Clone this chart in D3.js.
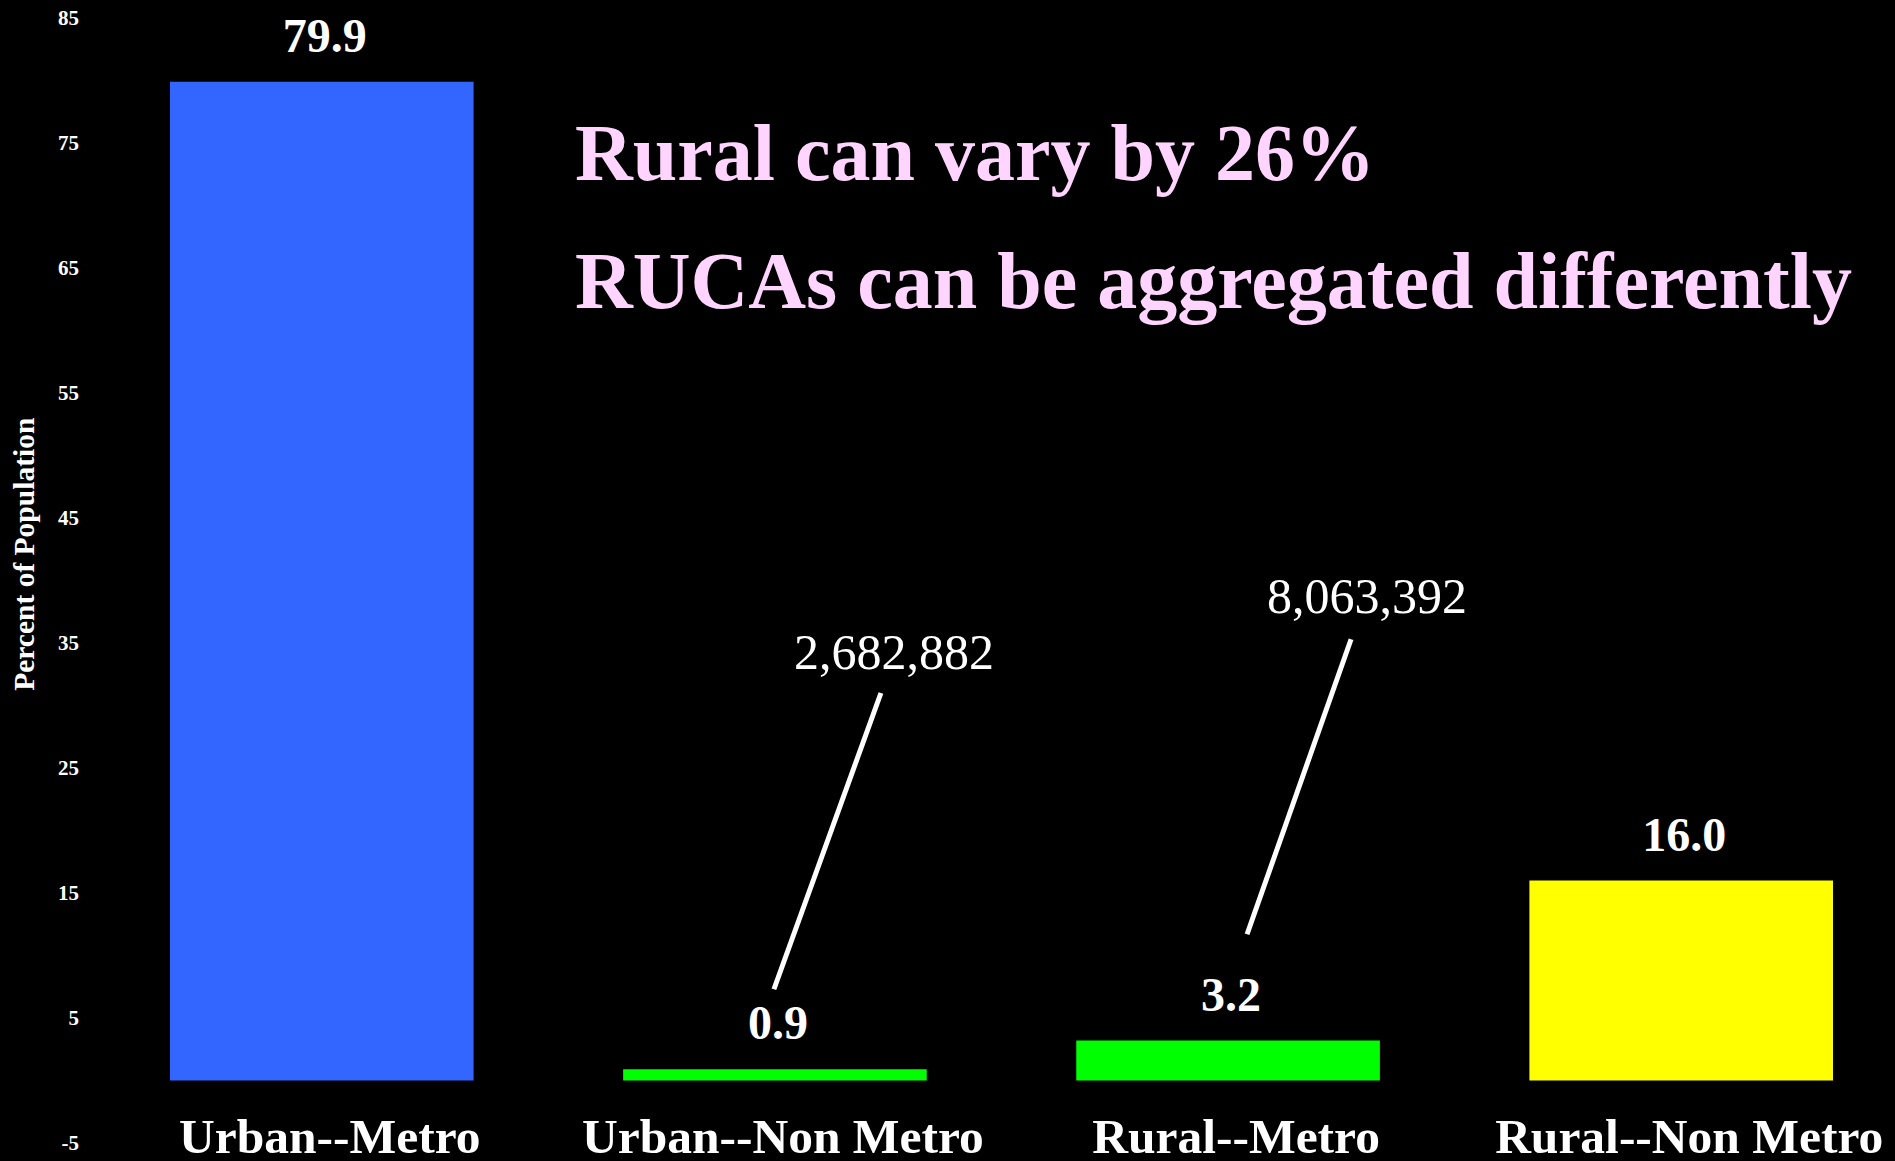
<!DOCTYPE html>
<html>
<head>
<meta charset="utf-8">
<script src="https://cdnjs.cloudflare.com/ajax/libs/d3/7.8.5/d3.min.js"></script>
<style>
  body { margin: 0; background: #000; }
  svg { display: block; }
</style>
</head>
<body>
<div id="chart"></div>
<script>
var categories = ["Urban--Metro", "Urban--Non Metro", "Rural--Metro", "Rural--Non Metro"];
var percents = [79.9, 0.9, 3.2, 16.0];
var barColors = ["#3366ff", "#00ff00", "#00ff00", "#ffff00"];
var yTicks = [-5, 5, 15, 25, 35, 45, 55, 65, 75, 85];
var populations = ["2,682,882", "8,063,392"];
var populationCategories = ["Urban--Non Metro", "Rural--Metro"];
var titleLines = ["Rural can vary by 26%", "RUCAs can be aggregated differently"];

var width = 1895, height = 1161;
var serif = "'Liberation Serif', 'Times New Roman', serif";

// leader placement for the population callouts (value units + px offset from band centre)
var callouts = [
  {textDx: 119, textY: 32.9, topDx: 106, topY: 31.0, botDx: -1, botY: 7.3},
  {textDx: 139, textY: 37.4, topDx: 123, topY: 35.3, botDx: 19, botY: 11.7}
];

var svg = d3.select("#chart").append("svg")
    .attr("width", width)
    .attr("height", height);

svg.append("rect")
  .attr("width", width)
  .attr("height", height)
  .attr("fill", "#000");

var x = d3.scaleBand()
    .domain(categories)
    .range([170, 1833])
    .paddingInner(0.33)
    .paddingOuter(0);

var y = d3.scaleLinear()
    .domain([-5, 85])
    .range([1143, 18]);

// y axis, labels only (plain hyphen for negatives like the original)
var yAxis = svg.append("g")
    .attr("transform", "translate(82,0)")
    .call(d3.axisLeft(y)
      .tickValues(yTicks)
      .tickFormat(function(d) { return String(d); })
      .tickSize(0)
      .tickPadding(3));
yAxis.select(".domain").remove();
yAxis.selectAll("text")
  .attr("fill", "#fff")
  .style("font-family", serif)
  .style("font-weight", "bold")
  .style("font-size", "21px");

svg.append("text")
  .attr("transform", "translate(34," + y(42.1) + ") rotate(-90)")
  .attr("text-anchor", "middle")
  .attr("fill", "#fff")
  .style("font-family", serif)
  .style("font-weight", "bold")
  .style("font-size", "29.5px")
  .text("Percent of Population");

// bars
svg.append("g")
  .selectAll("rect")
  .data(percents)
  .enter().append("rect")
  .attr("x", function(d, i) { return x(categories[i]); })
  .attr("y", function(d) { return y(d); })
  .attr("width", x.bandwidth())
  .attr("height", function(d) { return y(0) - y(d); })
  .attr("fill", function(d, i) { return barColors[i]; });

// value labels
svg.append("g")
  .selectAll("text")
  .data(percents)
  .enter().append("text")
  .attr("x", function(d, i) { return x(categories[i]) + x.bandwidth() / 2 + 3; })
  .attr("y", function(d) { return y(d) - 30; })
  .attr("text-anchor", "middle")
  .attr("fill", "#fff")
  .style("font-family", serif)
  .style("font-weight", "bold")
  .style("font-size", "48px")
  .text(function(d) { return d.toFixed(1); });

// category labels
svg.append("g")
  .selectAll("text")
  .data(categories)
  .enter().append("text")
  .attr("x", function(d) { return x(d) + x.bandwidth() / 2 + 8; })
  .attr("y", 1153)
  .attr("text-anchor", "middle")
  .attr("fill", "#fff")
  .style("font-family", serif)
  .style("font-weight", "bold")
  .style("font-size", "49.5px")
  .text(function(d) { return d; });

// population callouts
var callout = svg.append("g")
  .selectAll("g")
  .data(populations)
  .enter().append("g");

callout.append("line")
  .attr("x1", function(d, i) { return x(populationCategories[i]) + x.bandwidth() / 2 + callouts[i].botDx; })
  .attr("y1", function(d, i) { return y(callouts[i].botY); })
  .attr("x2", function(d, i) { return x(populationCategories[i]) + x.bandwidth() / 2 + callouts[i].topDx; })
  .attr("y2", function(d, i) { return y(callouts[i].topY); })
  .attr("stroke", "#fff")
  .attr("stroke-width", 5);

callout.append("text")
  .attr("x", function(d, i) { return x(populationCategories[i]) + x.bandwidth() / 2 + callouts[i].textDx; })
  .attr("y", function(d, i) { return y(callouts[i].textY); })
  .attr("text-anchor", "middle")
  .attr("fill", "#fff")
  .style("font-family", serif)
  .style("font-size", "50px")
  .text(function(d) { return d; });

// headline
svg.append("g")
  .selectAll("text")
  .data(titleLines)
  .enter().append("text")
  .attr("x", 575)
  .attr("y", function(d, i) { return 180 + i * 128; })
  .attr("fill", "#ffd5ff")
  .style("font-family", serif)
  .style("font-weight", "bold")
  .style("font-size", "80px")
  .text(function(d) { return d; });
</script>
</body>
</html>
